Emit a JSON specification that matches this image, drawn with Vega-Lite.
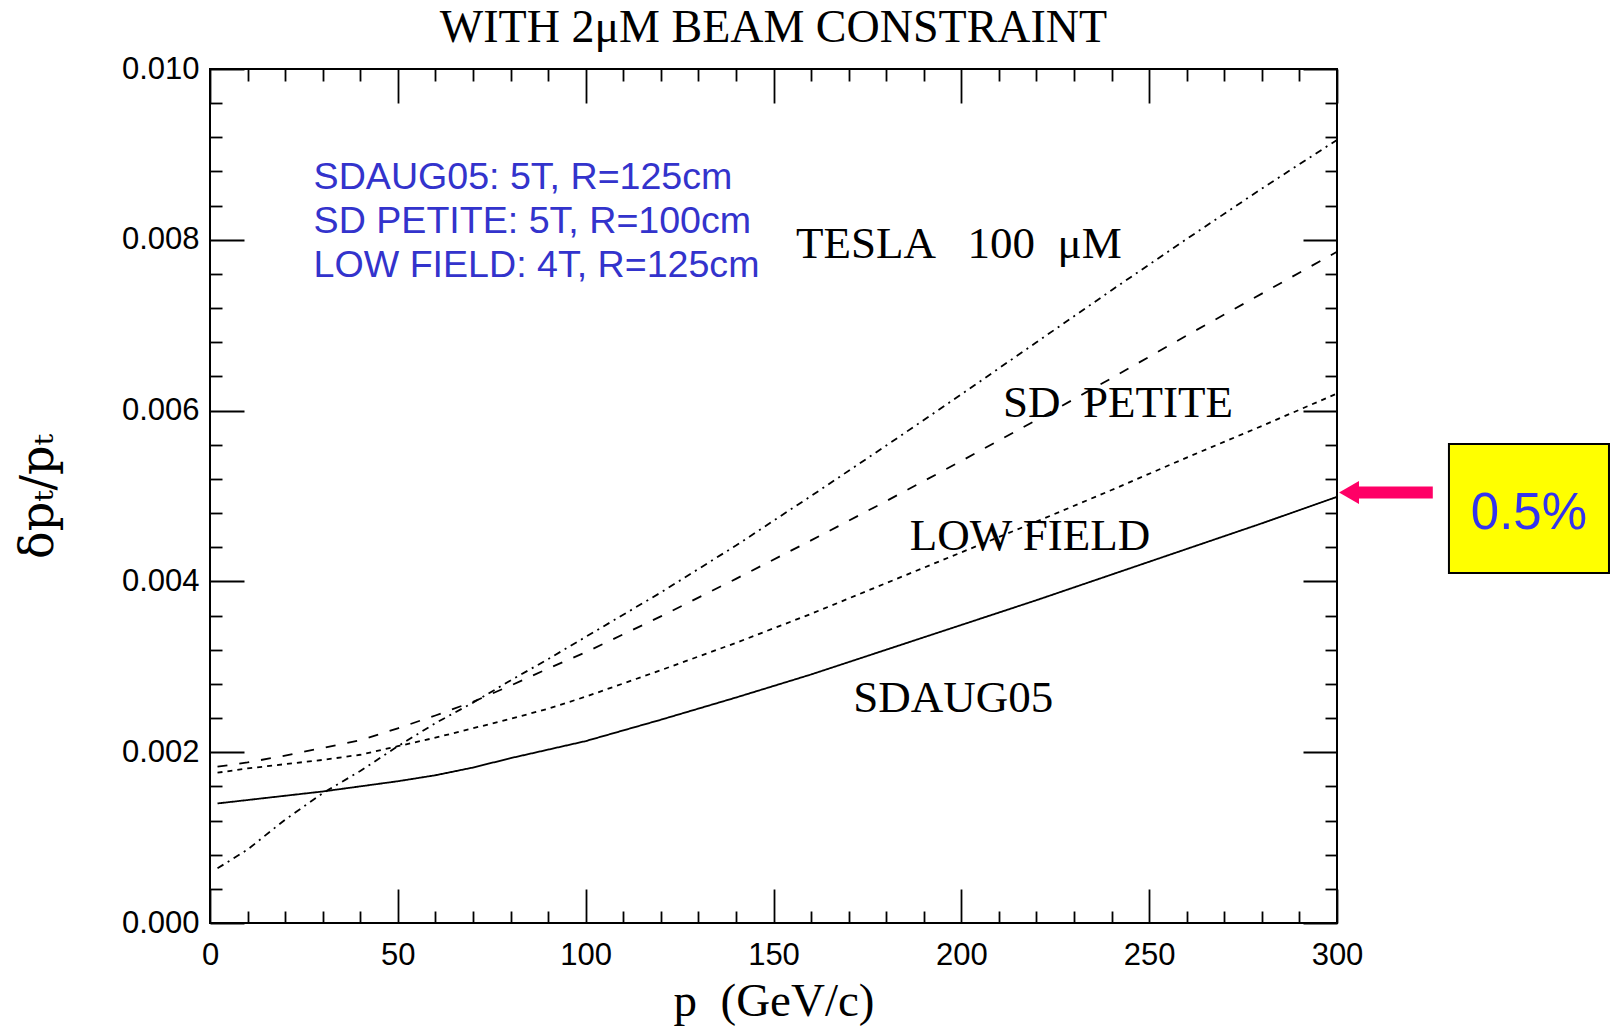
{
  "$schema": "https://vega.github.io/schema/vega-lite/v6.json",
  "width": 1127,
  "height": 854,
  "autosize": {"type": "none"},
  "padding": {"left": 210, "top": 69, "right": 274, "bottom": 105},
  "background": "white",
  "title": {"text": "WITH 2\u03bcM BEAM CONSTRAINT", "font": "Liberation Serif", "fontSize": 46, "fontWeight": "normal", "color": "black", "anchor": "middle", "frame": "group", "baseline": "alphabetic", "offset": -35},
  "config": {
    "view": {"stroke": "black", "strokeWidth": 2},
    "axis": {"grid": false, "domain": false, "tickColor": "black", "tickWidth": 1.8, "labelColor": "black", "titleColor": "black"}
  },
  "datasets": {
    "curves": [
      {"p": 2, "v": 0.00140, "series": "SDAUG05"},
      {"p": 10, "v": 0.00144, "series": "SDAUG05"},
      {"p": 20, "v": 0.00149, "series": "SDAUG05"},
      {"p": 30, "v": 0.00154, "series": "SDAUG05"},
      {"p": 40, "v": 0.00160, "series": "SDAUG05"},
      {"p": 50, "v": 0.00166, "series": "SDAUG05"},
      {"p": 60, "v": 0.00173, "series": "SDAUG05"},
      {"p": 70, "v": 0.00182, "series": "SDAUG05"},
      {"p": 80, "v": 0.00193, "series": "SDAUG05"},
      {"p": 90, "v": 0.00203, "series": "SDAUG05"},
      {"p": 100, "v": 0.00213, "series": "SDAUG05"},
      {"p": 120, "v": 0.00238, "series": "SDAUG05"},
      {"p": 140, "v": 0.00264, "series": "SDAUG05"},
      {"p": 160, "v": 0.00291, "series": "SDAUG05"},
      {"p": 180, "v": 0.00320, "series": "SDAUG05"},
      {"p": 200, "v": 0.00349, "series": "SDAUG05"},
      {"p": 220, "v": 0.00378, "series": "SDAUG05"},
      {"p": 240, "v": 0.00408, "series": "SDAUG05"},
      {"p": 260, "v": 0.00438, "series": "SDAUG05"},
      {"p": 280, "v": 0.00468, "series": "SDAUG05"},
      {"p": 300, "v": 0.00499, "series": "SDAUG05"},
      {"p": 2, "v": 0.00176, "series": "LOW FIELD"},
      {"p": 10, "v": 0.00181, "series": "LOW FIELD"},
      {"p": 20, "v": 0.00186, "series": "LOW FIELD"},
      {"p": 30, "v": 0.00191, "series": "LOW FIELD"},
      {"p": 40, "v": 0.00197, "series": "LOW FIELD"},
      {"p": 50, "v": 0.00207, "series": "LOW FIELD"},
      {"p": 60, "v": 0.00217, "series": "LOW FIELD"},
      {"p": 70, "v": 0.00228, "series": "LOW FIELD"},
      {"p": 80, "v": 0.00239, "series": "LOW FIELD"},
      {"p": 90, "v": 0.00251, "series": "LOW FIELD"},
      {"p": 100, "v": 0.00265, "series": "LOW FIELD"},
      {"p": 120, "v": 0.00296, "series": "LOW FIELD"},
      {"p": 140, "v": 0.00328, "series": "LOW FIELD"},
      {"p": 160, "v": 0.00362, "series": "LOW FIELD"},
      {"p": 180, "v": 0.00398, "series": "LOW FIELD"},
      {"p": 200, "v": 0.00434, "series": "LOW FIELD"},
      {"p": 220, "v": 0.00470, "series": "LOW FIELD"},
      {"p": 240, "v": 0.00507, "series": "LOW FIELD"},
      {"p": 260, "v": 0.00545, "series": "LOW FIELD"},
      {"p": 280, "v": 0.00582, "series": "LOW FIELD"},
      {"p": 300, "v": 0.00620, "series": "LOW FIELD"},
      {"p": 2, "v": 0.00183, "series": "SD PETITE"},
      {"p": 10, "v": 0.00188, "series": "SD PETITE"},
      {"p": 20, "v": 0.00196, "series": "SD PETITE"},
      {"p": 30, "v": 0.00205, "series": "SD PETITE"},
      {"p": 40, "v": 0.00214, "series": "SD PETITE"},
      {"p": 50, "v": 0.00228, "series": "SD PETITE"},
      {"p": 60, "v": 0.00243, "series": "SD PETITE"},
      {"p": 70, "v": 0.00259, "series": "SD PETITE"},
      {"p": 80, "v": 0.00278, "series": "SD PETITE"},
      {"p": 90, "v": 0.00298, "series": "SD PETITE"},
      {"p": 100, "v": 0.00317, "series": "SD PETITE"},
      {"p": 120, "v": 0.00359, "series": "SD PETITE"},
      {"p": 140, "v": 0.00403, "series": "SD PETITE"},
      {"p": 160, "v": 0.00448, "series": "SD PETITE"},
      {"p": 180, "v": 0.00494, "series": "SD PETITE"},
      {"p": 200, "v": 0.00541, "series": "SD PETITE"},
      {"p": 220, "v": 0.00589, "series": "SD PETITE"},
      {"p": 240, "v": 0.00638, "series": "SD PETITE"},
      {"p": 260, "v": 0.00688, "series": "SD PETITE"},
      {"p": 280, "v": 0.00737, "series": "SD PETITE"},
      {"p": 300, "v": 0.00786, "series": "SD PETITE"},
      {"p": 2, "v": 0.00064, "series": "TESLA"},
      {"p": 10, "v": 0.00086, "series": "TESLA"},
      {"p": 20, "v": 0.00121, "series": "TESLA"},
      {"p": 30, "v": 0.00152, "series": "TESLA"},
      {"p": 40, "v": 0.00178, "series": "TESLA"},
      {"p": 50, "v": 0.00207, "series": "TESLA"},
      {"p": 60, "v": 0.00234, "series": "TESLA"},
      {"p": 70, "v": 0.00258, "series": "TESLA"},
      {"p": 80, "v": 0.00284, "series": "TESLA"},
      {"p": 90, "v": 0.00309, "series": "TESLA"},
      {"p": 100, "v": 0.00335, "series": "TESLA"},
      {"p": 120, "v": 0.00387, "series": "TESLA"},
      {"p": 140, "v": 0.00442, "series": "TESLA"},
      {"p": 160, "v": 0.00500, "series": "TESLA"},
      {"p": 180, "v": 0.00559, "series": "TESLA"},
      {"p": 200, "v": 0.00619, "series": "TESLA"},
      {"p": 220, "v": 0.00680, "series": "TESLA"},
      {"p": 240, "v": 0.00741, "series": "TESLA"},
      {"p": 260, "v": 0.00801, "series": "TESLA"},
      {"p": 280, "v": 0.00860, "series": "TESLA"},
      {"p": 300, "v": 0.00917, "series": "TESLA"}
    ],
    "arrow": [{"x1": 325.5, "x2": 305, "xh": 303.2, "ya": 0.005041}],
    "box": [{"bx1": 329.8, "bx2": 372.4, "by1": 0.005609, "by2": 0.004098, "tx": 351.1, "ty": 0.00461, "label": "0.5%"}],
    "names": [
      {"label": "TESLA\u2002\u2009100\u2002\u03bcM", "px": 156.0, "py": 0.007783},
      {"label": "SD\u2002PETITE", "px": 211.1, "py": 0.005929},
      {"label": "LOW FIELD", "px": 186.3, "py": 0.004368},
      {"label": "SDAUG05", "px": 171.2, "py": 0.002474}
    ],
    "notes": [
      {"label": "SDAUG05: 5T, R=125cm", "px": 27.58, "py": 0.008591},
      {"label": "SD PETITE: 5T, R=100cm", "px": 27.58, "py": 0.008076},
      {"label": "LOW FIELD: 4T, R=125cm", "px": 27.58, "py": 0.007561}
    ]
  },
  "layer": [
    {
      "data": {"name": "curves"},
      "mark": {"type": "line", "color": "black", "strokeWidth": 1.8},
      "encoding": {
        "x": {"field": "p", "type": "quantitative",
          "scale": {"domain": [0, 300], "nice": false, "zero": false},
          "axis": {"orient": "bottom", "values": [0, 50, 100, 150, 200, 250, 300], "ticks": false, "tickSize": 0,
            "labelFont": "Liberation Sans", "labelFontSize": 31, "labelPadding": 17, "labelFlush": false, "labelOverlap": false, "format": "d",
            "title": "p\u2002(GeV/c)", "titleFont": "Liberation Serif", "titleFontSize": 47, "titleFontWeight": "normal",
            "titleBaseline": "alphabetic", "titleY": 92, "titleX": 563.5, "titleAlign": "center"}},
        "y": {"field": "v", "type": "quantitative",
          "scale": {"domain": [0, 0.01], "nice": false, "zero": false},
          "axis": {"orient": "left", "values": [0, 0.002, 0.004, 0.006, 0.008, 0.01], "ticks": false, "tickSize": 0,
            "labelFont": "Liberation Sans", "labelFontSize": 31, "labelPadding": 11, "labelFlush": false, "labelOverlap": false, "format": ".3f",
            "title": "\u03b4p\u209c/p\u209c", "titleFont": "DejaVu Serif", "titleFontSize": 46, "titleFontWeight": "normal",
            "titleAngle": -90, "titleBaseline": "alphabetic", "titleAlign": "center", "titleX": -158, "titleY": 427}},
        "strokeDash": {"field": "series", "type": "nominal",
          "scale": {"domain": ["SDAUG05", "SD PETITE", "LOW FIELD", "TESLA"], "range": [[1, 0], [10, 12], [5, 5], [7, 5, 2, 5]]},
          "legend": null}
      }
    },
    {
      "data": {"name": "arrow"},
      "mark": {"type": "rule", "color": "#ff0066", "strokeWidth": 12},
      "encoding": {
        "x": {"field": "x1", "type": "quantitative",
          "axis": {"orient": "bottom", "values": [0, 50, 100, 150, 200, 250, 300], "labels": false, "tickSize": -34, "title": null}},
        "x2": {"field": "x2"},
        "y": {"field": "ya", "type": "quantitative",
          "axis": {"orient": "left", "values": [0, 0.002, 0.004, 0.006, 0.008, 0.01], "labels": false, "tickSize": -34, "title": null}}
      }
    },
    {
      "data": {"name": "arrow"},
      "mark": {"type": "point", "shape": "triangle-left", "filled": true, "color": "#ff0066", "size": 529, "opacity": 1},
      "encoding": {
        "x": {"field": "xh", "type": "quantitative",
          "axis": {"orient": "bottom", "values": [10, 20, 30, 40, 60, 70, 80, 90, 110, 120, 130, 140, 160, 170, 180, 190, 210, 220, 230, 240, 260, 270, 280, 290], "labels": false, "tickSize": -12, "title": null}},
        "y": {"field": "ya", "type": "quantitative",
          "axis": {"orient": "left", "values": [0.0004, 0.0008, 0.0012, 0.0016, 0.0024, 0.0028, 0.0032, 0.0036, 0.0044, 0.0048, 0.0052, 0.0056, 0.0064, 0.0068, 0.0072, 0.0076, 0.0084, 0.0088, 0.0092, 0.0096], "labels": false, "tickSize": -12, "title": null}}
      }
    },
    {
      "data": {"name": "box"},
      "mark": {"type": "rect", "fill": "#ffff00", "stroke": "black", "strokeWidth": 2},
      "encoding": {
        "x": {"field": "bx1", "type": "quantitative",
          "axis": {"orient": "top", "values": [0, 50, 100, 150, 200, 250, 300], "labels": false, "tickSize": -34, "title": null}},
        "x2": {"field": "bx2"},
        "y": {"field": "by1", "type": "quantitative",
          "axis": {"orient": "right", "values": [0, 0.002, 0.004, 0.006, 0.008, 0.01], "labels": false, "tickSize": -34, "title": null}},
        "y2": {"field": "by2"}
      }
    },
    {
      "data": {"name": "box"},
      "mark": {"type": "text", "font": "Liberation Sans", "fontSize": 51, "color": "#3333ee", "align": "center", "baseline": "alphabetic"},
      "encoding": {
        "x": {"field": "tx", "type": "quantitative",
          "axis": {"orient": "top", "values": [10, 20, 30, 40, 60, 70, 80, 90, 110, 120, 130, 140, 160, 170, 180, 190, 210, 220, 230, 240, 260, 270, 280, 290], "labels": false, "tickSize": -12, "title": null}},
        "y": {"field": "ty", "type": "quantitative",
          "axis": {"orient": "right", "values": [0.0004, 0.0008, 0.0012, 0.0016, 0.0024, 0.0028, 0.0032, 0.0036, 0.0044, 0.0048, 0.0052, 0.0056, 0.0064, 0.0068, 0.0072, 0.0076, 0.0084, 0.0088, 0.0092, 0.0096], "labels": false, "tickSize": -12, "title": null}},
        "text": {"field": "label"}
      }
    },
    {
      "data": {"name": "names"},
      "mark": {"type": "text", "font": "Liberation Serif", "fontSize": 45, "color": "black", "align": "left", "baseline": "alphabetic"},
      "encoding": {
        "x": {"field": "px", "type": "quantitative", "axis": null},
        "y": {"field": "py", "type": "quantitative", "axis": null},
        "text": {"field": "label"}
      }
    },
    {
      "data": {"name": "notes"},
      "mark": {"type": "text", "font": "Liberation Sans", "fontSize": 37.6, "color": "#3333cc", "align": "left", "baseline": "alphabetic"},
      "encoding": {
        "x": {"field": "px", "type": "quantitative", "axis": null},
        "y": {"field": "py", "type": "quantitative", "axis": null},
        "text": {"field": "label"}
      }
    }
  ],
  "resolve": {"axis": {"x": "independent", "y": "independent"}}
}
